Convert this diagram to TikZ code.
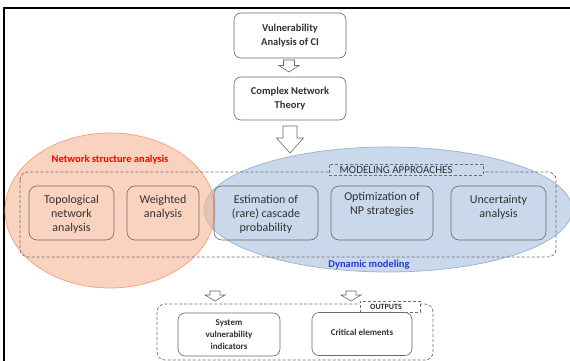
\documentclass[tikz,border=0pt]{standalone}
\usepackage{fontspec}
\setmainfont{Carlito}
\definecolor{boxline}{RGB}{105,105,105}
\definecolor{dashline}{RGB}{110,110,110}
\definecolor{txt}{RGB}{50,50,50}
\definecolor{redfill}{RGB}{247,182,150}
\definecolor{redline}{RGB}{240,160,120}
\definecolor{bluefill}{RGB}{201,216,234}
\definecolor{blueline}{RGB}{150,178,214}
\definecolor{titlered}{RGB}{255,0,0}
\definecolor{titleblue}{RGB}{30,60,205}
\newcommand{\blkarrow}[6]{%
  \draw[blockarrow] ({#1-#3},#2) -- ({#1+#3},#2) -- ({#1+#3},#5) -- ({#1+#4},#5)
    -- (#1,#6) -- ({#1-#4},#5) -- ({#1-#3},#5) -- cycle;}
\tikzset{
  topbox/.style={draw=boxline, line width=0.6pt, rounded corners=7pt, fill=white,
    font=\bfseries\fontsize{10.5}{14}\selectfont, text=txt, align=center, inner sep=0pt},
  midbox/.style={draw=boxline, line width=0.6pt, rounded corners=8pt, inner sep=0pt,
    minimum height=54pt},
  midtxt/.style={font=\fontsize{12}{14}\selectfont, text=txt, align=center, inner sep=0pt, anchor=north},
  outbox/.style={draw=boxline, line width=0.6pt, rounded corners=7pt, fill=white,
    font=\bfseries\fontsize{9}{12}\selectfont, text=txt, align=center, inner sep=0pt,
    minimum height=43pt},
  dashbox/.style={draw=dashline, line width=0.7pt, dash pattern=on 3pt off 2pt, rounded corners=8pt},
  labelbox/.style={draw=dashline, line width=0.7pt, dash pattern=on 3pt off 2pt, inner sep=0pt},
  blockarrow/.style={draw=boxline, line width=0.6pt, fill=white, line join=miter},
}
\begin{document}
\begin{tikzpicture}[x=1pt,y=-1pt]
\useasboundingbox (0,0) rectangle (570,361);
% frame
\draw[line width=2pt] (570,7.7) -- (3.7,7.7) -- (3.7,361);
% top boxes
\node[topbox, minimum width=112pt, minimum height=45pt] (vuln) at (290,35.5) {Vulnerability\\Analysis of CI};
\node[topbox, minimum width=112pt, minimum height=43pt] (cnt) at (290,98.5) {Complex Network\\Theory};
\blkarrow{289}{60}{5.5}{10}{65.5}{72}
\blkarrow{290}{126}{7}{13.5}{138}{153}
% ellipses
\fill[bluefill] (388,209.5) ellipse [x radius=184, y radius=62.5];
\draw[blueline, line width=0.7pt] (388,209.5) ellipse [x radius=184, y radius=62.5];
\fill[redfill, fill opacity=0.6] (110,210.5) ellipse [x radius=105, y radius=77.5];
\draw[redline, line width=0.7pt] (110,210.5) ellipse [x radius=105, y radius=77.5];
\node[font=\bfseries\fontsize{10.5}{12}\selectfont, text=titlered] (nsa) at (110,160) {Network structure analysis};
\node[font=\bfseries\fontsize{10.5}{12}\selectfont, text=titleblue] (dyn) at (369,265) {Dynamic modeling};
% modeling approaches frame
\draw[dashbox] (20,172) rectangle (556,257);
\node[labelbox, fill=bluefill, minimum width=154pt, minimum height=11pt] (malab) at (406,169.5) {};
\node[font=\fontsize{11}{12}\selectfont, text=txt] (matxt) at (396,170) {MODELING APPROACHES};
% middle boxes
\node[midbox, minimum width=85pt] (topo) at (71.5,213) {};
\node[midtxt] at ([yshift=-9pt]topo.north) {Topological\\network\\analysis};
\node[midbox, minimum width=72pt] (wgt) at (163,213) {};
\node[midtxt] at ([yshift=-9pt]wgt.north) {Weighted\\analysis};
\node[midbox, minimum width=104pt] (est) at (266,213) {};
\node[midtxt] at ([yshift=-9pt]est.north) {Estimation of\\(rare) cascade\\probability};
\node[midbox, minimum width=102pt] (opt) at (382,213) {};
\node[midtxt] at ([yshift=-6pt]opt.north) {Optimization of\\NP strategies};
\node[midbox, minimum width=95pt] (unc) at (498.5,213) {};
\node[midtxt] at ([yshift=-9pt]unc.north) {Uncertainty\\analysis};
% bottom arrows
\blkarrow{215}{291}{5}{10}{295}{301}
\blkarrow{351}{291}{5}{10}{295}{301}
% outputs
\draw[dashbox] (157,304) rectangle (433,360);
\node[labelbox, fill=white, minimum width=60pt, minimum height=11pt] (outlab) at (390,306.5) {};
\node[font=\bfseries\fontsize{8}{9}\selectfont, text=txt] (outtxt) at (386,306.5) {OUTPUTS};
\node[outbox, minimum width=102pt] (svi) at (229,334.5) {System\\vulnerability\\indicators};
\node[outbox, minimum width=100pt] (crit) at (362,334) {\raisebox{4pt}{Critical elements}};
\end{tikzpicture}
\end{document}
